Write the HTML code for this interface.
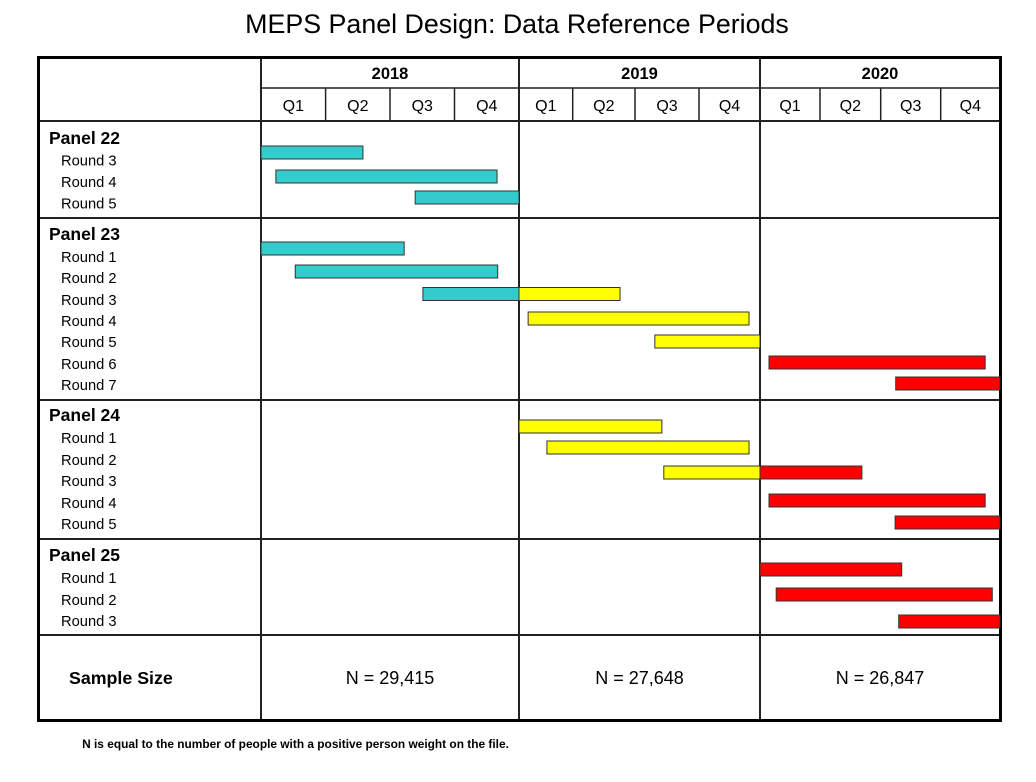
<!DOCTYPE html>
<html><head><meta charset="utf-8"><style>
html,body{margin:0;padding:0;background:#fff;}
svg{display:block;font-family:"Liberation Sans",Arial,sans-serif;}
</style></head><body>
<svg id="chart" width="1036" height="782" viewBox="0 0 1036 782">
<text x="517" y="33" font-size="26.8" text-anchor="middle">MEPS Panel Design: Data Reference Periods</text>
<g id="grid"></g>
<g id="bars"></g>
<g id="labels"></g>
</svg>
<script>
const years = ["2018","2019","2020"];
const quarters = ["Q1","Q2","Q3","Q4"];
const sampleSizes = ["N = 29,415","N = 27,648","N = 26,847"];
const panels = ["Panel 22","Panel 23","Panel 24","Panel 25"];
const rounds = [["Round 3","Round 4","Round 5"],["Round 1","Round 2","Round 3","Round 4","Round 5","Round 6","Round 7"],["Round 1","Round 2","Round 3","Round 4","Round 5"],["Round 1","Round 2","Round 3"]];
// bars: quarters from Q1 2018 = 0
const barPanel = [0,0,0, 1,1,1,1,1,1,1,1, 2,2,2,2,2,2, 3,3,3];
const barRound = [0,1,2, 0,1,2,2,3,4,5,6, 0,1,2,2,3,4, 0,1,2];
const barStart = [0,0.23,2.39, 0,0.53,2.51,4,4.17,6.31,8.15,10.25, 4,4.52,6.45,8,8.15,10.24, 8,8.27,10.3];
const barEnd   = [1.58,3.66,4, 2.22,3.67,4,5.76,7.82,8,11.75,12, 6.42,7.82,8,9.69,11.75,12, 10.35,11.87,12];
const barColor = ["c","c","c","c","c","c","y","y","y","r","r","y","y","y","r","r","r","r","r","r"];

const colors = {c:"#33CCCC", y:"#FFFF00", r:"#FF0000"};
const qEdges = [261,325.6,390,454.5,519,572.7,635,699,760,820,880.7,940.7,1000];
function xScale(q){
  if(q<=0) return qEdges[0];
  if(q>=12) return qEdges[12];
  const i=Math.floor(q), f=q-i;
  return qEdges[i]+(qEdges[i+1]-qEdges[i])*f;
}
const panelTitleY=[138,234,415,555];
const roundLabelY=[[160.5,182,203.5],[257,278,300,321,342,364,385],[438,460,481,503,524],[578,600,621]];
const barTopY=[[146,170,191],[242,265,287.5,312,335,356,377],[420,441,466,494,516],[563,588,615]];
const sepY=[121,218,400,539,635];
const NS="http://www.w3.org/2000/svg";
function mk(tag,attrs,parent){const e=document.createElementNS(NS,tag);for(const k in attrs)e.setAttribute(k,attrs[k]);parent.appendChild(e);return e;}
const grid=document.getElementById('grid'), bg=document.getElementById('bars'), lg=document.getElementById('labels');

sepY.forEach((y,i)=>{const l=mk('line',{x1:38,x2:1000,y1:y,y2:y,stroke:'#222','stroke-width':2},grid);

});
let l2=mk('line',{x1:261,x2:1000,y1:88,y2:88,stroke:'#222','stroke-width':1.5},grid);


[261,519,760].forEach(x=>{const l=mk('line',{x1:x,x2:x,y1:57,y2:721,stroke:'#222','stroke-width':2},grid);

});
qEdges.forEach((x,i)=>{ if(i%4===0) return; const l=mk('line',{x1:x,x2:x,y1:88,y2:121,stroke:'#222','stroke-width':1.5},grid);

});
const ob=mk('rect',{x:38.5,y:57.5,width:962,height:663,fill:'none',stroke:'#000','stroke-width':3},grid);



years.forEach((yr,i)=>{
  const cx=(qEdges[i*4]+qEdges[i*4+4])/2;
  const t=mk('text',{x:cx,y:79,'font-size':16.5,'font-weight':'bold','text-anchor':'middle'},lg);t.textContent=yr;
  
  
  quarters.forEach((q,j)=>{const k=i*4+j;const qt=mk('text',{x:(qEdges[k]+qEdges[k+1])/2,y:111,'font-size':16,'text-anchor':'middle'},lg);qt.textContent=q;
  
  });
  const s=mk('text',{x:cx,y:684,'font-size':18,'text-anchor':'middle'},lg);s.textContent=sampleSizes[i];
  
  
});
panels.forEach((p,i)=>{
  const t=mk('text',{x:49,y:panelTitleY[i]+6,'font-size':17.5,'font-weight':'bold'},lg);t.textContent=p;
  
  
  rounds[i].forEach((r,j)=>{const rt=mk('text',{x:61,y:roundLabelY[i][j]+5,'font-size':14.7},lg);rt.textContent=r;
  
  });
});
const ss=mk('text',{x:69,y:684,'font-size':17.8,'font-weight':'bold'},lg);ss.textContent="Sample Size";


const fn=mk('text',{x:295.5,y:748,'font-size':11.9,'font-weight':'bold','text-anchor':'middle'},lg);fn.textContent="N is equal to the number of people with a positive person weight on the file.";



barStart.forEach((s,i)=>{
  const x0=xScale(s), x1=xScale(barEnd[i]);
  const y=barTopY[barPanel[i]][barRound[i]];
  const b=mk('rect',{x:x0,y:y,width:x1-x0,height:13,fill:colors[barColor[i]],stroke:'#333','stroke-width':1},bg);
  
  
});
</script>
</body></html>
